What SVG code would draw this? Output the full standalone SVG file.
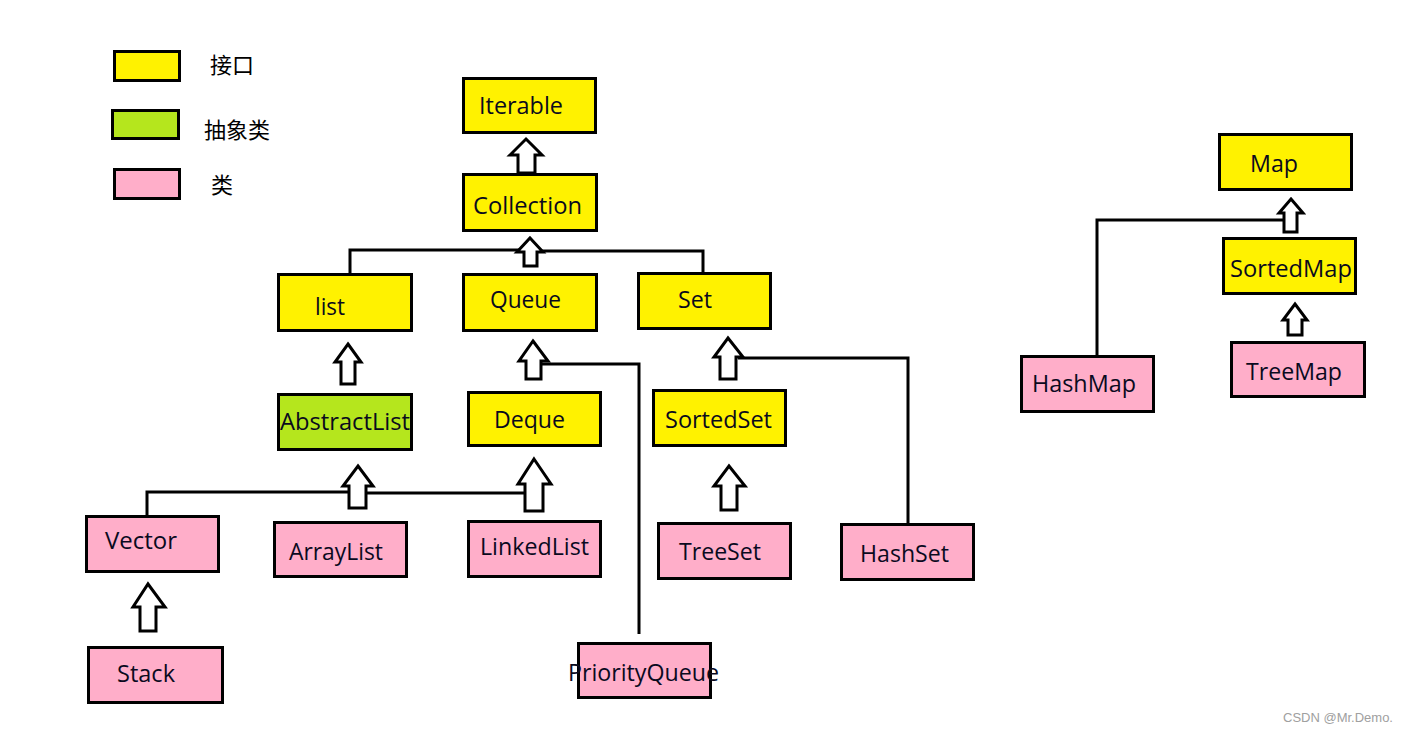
<svg xmlns="http://www.w3.org/2000/svg" width="1405" height="731" viewBox="0 0 1405 731">
<style>
.box{stroke:#000;stroke-width:3}
.if{fill:#fff200}
.ab{fill:#b5e61d}
.cl{fill:#ffaec9}
.t{font-family:"Open Sans","Noto Sans","Liberation Sans",sans-serif;font-size:23.5px;fill:#0a0a1e}
.cjk{font-family:"Noto Sans CJK SC","Noto Sans",sans-serif;font-size:22px;fill:#000}
.ln{fill:none;stroke:#000;stroke-width:3}
.ar{fill:#fff;stroke:#000;stroke-width:3;stroke-linejoin:miter}
.wm{font-family:"Liberation Sans",Arial,sans-serif;font-size:13px;fill:#a0a0a0}
</style>
<rect width="1405" height="731" fill="#fff"/>
<g id="legend">
<rect class="box if" x="114.5" y="51.5" width="65" height="29"/>
<rect class="box ab" x="112.5" y="110.5" width="66" height="28"/>
<rect class="box cl" x="114.5" y="169.5" width="65" height="29"/>
<text class="cjk" x="210" y="73">接口</text>
<text class="cjk" x="204" y="138">抽象类</text>
<text class="cjk" x="211" y="193">类</text>
</g>
<g id="connectors">
<polyline class="ln" points="350,273 350,250 520,250"/>
<polyline class="ln" points="540,251 703,251 703,272"/>
<polyline class="ln" points="540,364 639,364 639,634"/>
<polyline class="ln" points="738,358 908,358 908,523"/>
<polyline class="ln" points="147,515 147,492 360,492"/>
<line class="ln" x1="360" y1="493" x2="530" y2="493"/>
<polyline class="ln" points="1097,355 1097,220 1290,220"/>
<polygon class="ar" points="526,139 542,155 535,155 535,173 518,173 518,155 510,155"/>
<polygon class="ar" points="530,238 543,252 537,252 537,266 524,266 524,252 517,252"/>
<polygon class="ar" points="348,344 361,362 355,362 355,384 341,384 341,362 335,362"/>
<polygon class="ar" points="533,341 548,361 541,361 541,379 526,379 526,361 519,361"/>
<polygon class="ar" points="728,338 743,357 736,357 736,379 720,379 720,357 714,357"/>
<polygon class="ar" points="358,466 373,486 366,486 366,508 349,508 349,486 343,486"/>
<polygon class="ar" points="534,459 551,484 543,484 543,511 525,511 525,484 518,484"/>
<polygon class="ar" points="729,466 745,486 737,486 737,510 721,510 721,486 714,486"/>
<polygon class="ar" points="148,584 165,607 156,607 156,631 140,631 140,607 133,607"/>
<polygon class="ar" points="1291,199 1303,213 1297,213 1297,232 1284,232 1284,213 1279,213"/>
<polygon class="ar" points="1295,304 1307,320 1302,320 1302,335 1288,335 1288,320 1283,320"/>
</g>
<g id="Iterable"><rect class="box if" x="463.5" y="78.5" width="132" height="54"/><text class="t" x="479" y="114" textLength="84" lengthAdjust="spacingAndGlyphs">Iterable</text></g>
<g id="Collection"><rect class="box if" x="463.5" y="174.5" width="133" height="56"/><text class="t" x="473" y="214" textLength="109" lengthAdjust="spacingAndGlyphs">Collection</text></g>
<g id="list"><rect class="box if" x="278.5" y="274.5" width="133" height="56"/><text class="t" x="315" y="315" textLength="30" lengthAdjust="spacingAndGlyphs">list</text></g>
<g id="Queue"><rect class="box if" x="463.5" y="274.5" width="133" height="56"/><text class="t" x="490" y="308" textLength="71" lengthAdjust="spacingAndGlyphs">Queue</text></g>
<g id="Set"><rect class="box if" x="638.5" y="273.5" width="132" height="55"/><text class="t" x="678" y="308" textLength="34" lengthAdjust="spacingAndGlyphs">Set</text></g>
<g id="AbstractList"><rect class="box ab" x="278.5" y="394.5" width="133" height="55"/><text class="t" x="280" y="430" textLength="130" lengthAdjust="spacingAndGlyphs">AbstractList</text></g>
<g id="Deque"><rect class="box if" x="468.5" y="392.5" width="132" height="53"/><text class="t" x="494" y="428" textLength="71" lengthAdjust="spacingAndGlyphs">Deque</text></g>
<g id="SortedSet"><rect class="box if" x="653.5" y="390.5" width="132" height="55"/><text class="t" x="665" y="428" textLength="107" lengthAdjust="spacingAndGlyphs">SortedSet</text></g>
<g id="Vector"><rect class="box cl" x="86.5" y="516.5" width="132" height="55"/><text class="t" x="105" y="549" textLength="72" lengthAdjust="spacingAndGlyphs">Vector</text></g>
<g id="ArrayList"><rect class="box cl" x="274.5" y="522.5" width="132" height="54"/><text class="t" x="289" y="560" textLength="94" lengthAdjust="spacingAndGlyphs">ArrayList</text></g>
<g id="LinkedList"><rect class="box cl" x="468.5" y="521.5" width="132" height="55"/><text class="t" x="480" y="555" textLength="109" lengthAdjust="spacingAndGlyphs">LinkedList</text></g>
<g id="TreeSet"><rect class="box cl" x="658.5" y="523.5" width="132" height="55"/><text class="t" x="679" y="560" textLength="82" lengthAdjust="spacingAndGlyphs">TreeSet</text></g>
<g id="HashSet"><rect class="box cl" x="841.5" y="524.5" width="132" height="55"/><text class="t" x="860" y="562" textLength="89" lengthAdjust="spacingAndGlyphs">HashSet</text></g>
<g id="Stack"><rect class="box cl" x="88.5" y="647.5" width="134" height="55"/><text class="t" x="117" y="682" textLength="58" lengthAdjust="spacingAndGlyphs">Stack</text></g>
<g id="PriorityQueue"><rect class="box cl" x="578.5" y="643.5" width="132" height="54"/><text class="t" x="568" y="681" textLength="151" lengthAdjust="spacingAndGlyphs">PriorityQueue</text></g>
<g id="Map"><rect class="box if" x="1219.5" y="134.5" width="132" height="55"/><text class="t" x="1250" y="172" textLength="48" lengthAdjust="spacingAndGlyphs">Map</text></g>
<g id="SortedMap"><rect class="box if" x="1223.5" y="238.5" width="132" height="55"/><text class="t" x="1230" y="277" textLength="122" lengthAdjust="spacingAndGlyphs">SortedMap</text></g>
<g id="HashMap"><rect class="box cl" x="1021.5" y="356.5" width="132" height="55"/><text class="t" x="1032" y="392" textLength="104" lengthAdjust="spacingAndGlyphs">HashMap</text></g>
<g id="TreeMap"><rect class="box cl" x="1231.5" y="342.5" width="133" height="54"/><text class="t" x="1246" y="380" textLength="96" lengthAdjust="spacingAndGlyphs">TreeMap</text></g>
<text class="wm" x="1283" y="722">CSDN @Mr.Demo.</text>
</svg>
